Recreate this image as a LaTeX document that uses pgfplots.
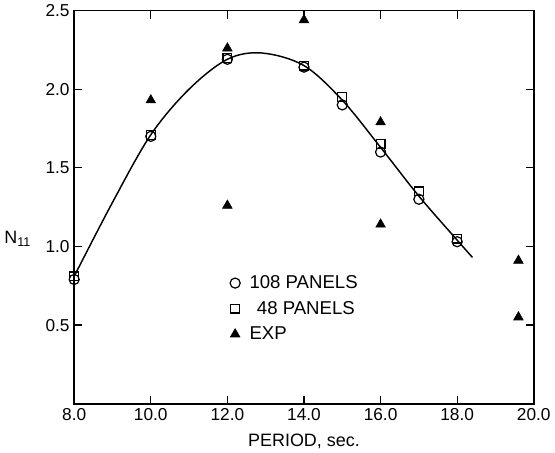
\documentclass[border=0pt]{standalone}
\usepackage{fontspec}
\setmainfont{Liberation Sans}
\usepackage{pgfplots}
\pgfplotsset{compat=1.18}

\begin{document}
\begin{tikzpicture}
\begin{axis}[
  scale only axis,
  width=346pt, height=296pt,
  xmin=8, xmax=20,
  ymin=0, ymax=2.5,
  xtick={8,10,12,14,16,18,20},
  ytick={0.5,1.0,1.5,2.0,2.5},
  xticklabel style={/pgf/number format/.cd,fixed,fixed zerofill,precision=1},
  yticklabel style={/pgf/number format/.cd,fixed,fixed zerofill,precision=1},
  /pgf/number format/assume math mode=true,
  tick align=inside,
  major tick length=6pt,
  minor tick num=0,
  tick style={line width=1pt, black},
  axis line style={line width=1.3pt},
  tick label style={font=\fontsize{13}{15}\selectfont},
  label style={font=\fontsize{13.5}{16}\selectfont},
  xlabel={PERIOD, sec.},
  ylabel={N\textsubscript{11}},
  ylabel style={rotate=-90, at={(ticklabel cs:0.42)}, anchor=east, xshift=-4pt},
  xlabel style={yshift=-3pt},
  legend style={draw=none, fill=none, font=\fontsize{14}{16}\selectfont,
    at={(rel axis cs:0.33,0.34)}, anchor=north west, row sep=4pt, column sep=5pt},
  legend cell align=left,
]
% fitted curve
\addplot[line width=1.1pt, black, smooth, tension=0.55, forget plot] coordinates {
  (8,0.81) (9,1.28) (10,1.71) (11,2.00) (12,2.19) (12.9,2.23) (14,2.15)
  (15,1.93) (16,1.63) (17,1.32) (18,1.04) (18.4,0.93)};
% 108 panels
\addplot[only marks, mark=o, mark size=3.8pt, mark options={fill=white, line width=0.9pt}] coordinates {
  (8,0.79) (10,1.70) (12,2.19) (14,2.14) (15,1.90) (16,1.60) (17,1.30) (18,1.03)};
\addlegendentry{108 PANELS}
% 48 panels
\addplot[only marks, mark=square, mark size=3.3pt, mark options={fill=white, line width=0.9pt}] coordinates {
  (8,0.81) (10,1.71) (12,2.20) (14,2.15) (15,1.95) (16,1.65) (17,1.35) (18,1.05)};
\addlegendentry{\hspace{0.4em}48 PANELS}
% experiment
\addplot[only marks, mark=triangle*, mark size=4.2pt, black] coordinates {
  (10,1.93) (12,2.26) (12,1.26) (14,2.44) (16,1.79) (16,1.14) (19.6,0.91) (19.6,0.55)};
\addlegendentry{EXP}
\end{axis}
\end{tikzpicture}
\end{document}
